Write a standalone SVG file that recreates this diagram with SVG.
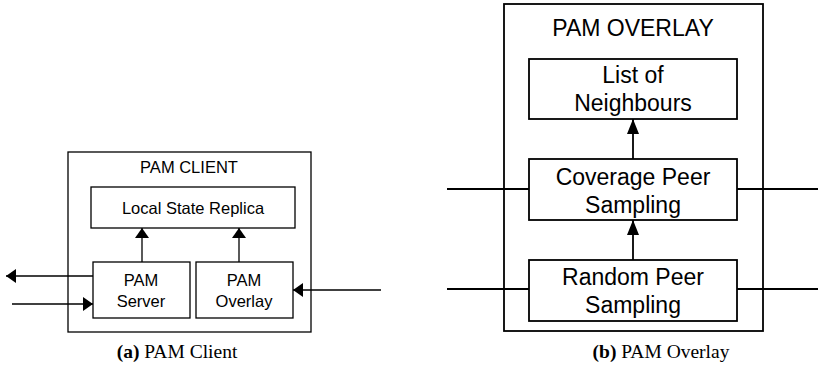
<svg xmlns="http://www.w3.org/2000/svg" width="818" height="377" viewBox="0 0 818 377">
<style>
.box{fill:#fff;stroke:#000;stroke-width:1.3}
.boxb{fill:#fff;stroke:#000;stroke-width:1.8}
.ln{fill:none;stroke:#000;stroke-width:1.3}
.lnb{fill:none;stroke:#000;stroke-width:1.8}
.t{font-family:"Liberation Sans",Arial,sans-serif;font-size:16.5px;text-anchor:middle;fill:#000}
.tb{font-family:"Liberation Sans",Arial,sans-serif;font-size:23px;text-anchor:middle;fill:#000}
.cap{font-family:"Liberation Serif","Times New Roman",serif;font-size:19.5px;text-anchor:middle;fill:#000}
</style>
<defs>
<marker id="ah" viewBox="0 0 10 14" refX="10" refY="7" markerWidth="10" markerHeight="14" markerUnits="userSpaceOnUse" orient="auto">
<path d="M0,0 L10,7 L0,14 Z" fill="#000"/>
</marker>
<marker id="ahb" viewBox="0 0 15 12" refX="15" refY="6" markerWidth="15" markerHeight="12" markerUnits="userSpaceOnUse" orient="auto">
<path d="M0,0 L15,6 L0,12 Z" fill="#000"/>
</marker>
</defs>

<g id="pam-client">
<rect class="box" x="68" y="152" width="243" height="180"/>
<text class="t" x="189" y="173">PAM CLIENT</text>
</g>
<g id="local-state-replica">
<rect class="box" x="91" y="187" width="204" height="41"/>
<text class="t" x="193" y="214">Local State Replica</text>
</g>
<g id="pam-server">
<rect class="box" x="93" y="262" width="97" height="56"/>
<text class="t" x="141" y="286">PAM</text>
<text class="t" x="141" y="307">Server</text>
</g>
<g id="pam-overlay-small">
<rect class="box" x="196" y="262" width="97" height="56"/>
<text class="t" x="244" y="286">PAM</text>
<text class="t" x="244" y="307">Overlay</text>
</g>

<g id="pam-overlay">
<rect class="boxb" x="504" y="4" width="259" height="327"/>
<text class="tb" x="633" y="36">PAM OVERLAY</text>
</g>
<g id="list-of-neighbours">
<rect class="boxb" x="529" y="59" width="208" height="60"/>
<text class="tb" x="633" y="83">List of</text>
<text class="tb" x="633" y="111">Neighbours</text>
</g>
<g id="coverage-peer-sampling">
<rect class="boxb" x="529" y="159" width="208" height="61"/>
<text class="tb" x="633" y="185">Coverage Peer</text>
<text class="tb" x="633" y="213">Sampling</text>
</g>
<g id="random-peer-sampling">
<rect class="boxb" x="529" y="260" width="208" height="61"/>
<text class="tb" x="633" y="285">Random Peer</text>
<text class="tb" x="633" y="313">Sampling</text>
</g>

<g id="connectors">
<line class="ln" x1="142" y1="262" x2="142" y2="228" marker-end="url(#ah)"/>
<line class="ln" x1="239" y1="262" x2="239" y2="228" marker-end="url(#ah)"/>
<line class="ln" x1="93" y1="276" x2="6" y2="276" marker-end="url(#ah)"/>
<line class="ln" x1="12" y1="304" x2="93" y2="304" marker-end="url(#ah)"/>
<line class="ln" x1="381" y1="290" x2="293" y2="290" marker-end="url(#ah)"/>
<line class="lnb" x1="633" y1="159" x2="633" y2="119" marker-end="url(#ahb)"/>
<line class="lnb" x1="633" y1="260" x2="633" y2="220" marker-end="url(#ahb)"/>
<line class="lnb" x1="447" y1="189" x2="529" y2="189"/>
<line class="lnb" x1="737" y1="189" x2="818" y2="189"/>
<line class="lnb" x1="447" y1="289" x2="529" y2="289"/>
<line class="lnb" x1="737" y1="289" x2="818" y2="289"/>
</g>

<text class="cap" x="177" y="358"><tspan font-weight="bold">(a)</tspan> PAM Client</text>
<text class="cap" x="661" y="358"><tspan font-weight="bold">(b)</tspan> PAM Overlay</text>
</svg>
